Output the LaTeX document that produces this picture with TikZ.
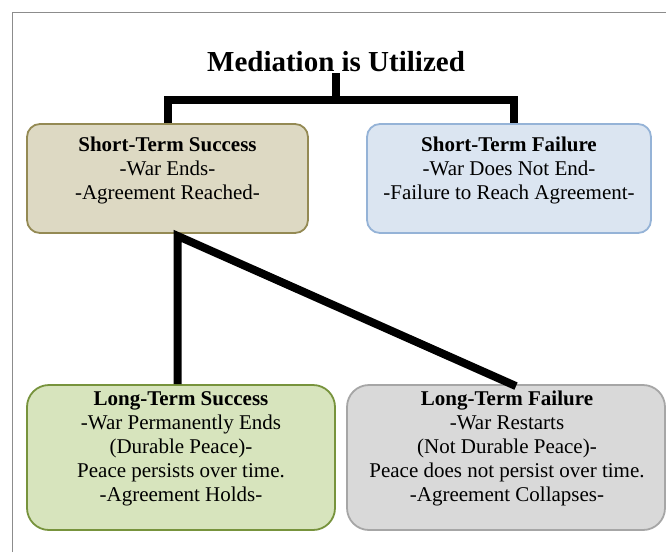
\documentclass[tikz,border=0pt]{standalone}
\usepackage{fontspec}
\setmainfont{Liberation Serif}
\definecolor{sfill}{HTML}{DDD9C3}
\definecolor{sdraw}{HTML}{948A54}
\definecolor{ffill}{HTML}{DBE5F1}
\definecolor{fdraw}{HTML}{95B3D7}
\definecolor{lfill}{HTML}{D7E4BD}
\definecolor{ldraw}{HTML}{77933C}
\definecolor{gfill}{HTML}{D9D9D9}
\definecolor{gdraw}{HTML}{A6A6A6}
\definecolor{framec}{HTML}{8C8C8C}
\tikzset{
  boxbase/.style={draw, line width=1.8pt, inner sep=0pt},
  topbox/.style={boxbase, rounded corners=13pt, minimum width=281pt, minimum height=109pt},
  botbox/.style={boxbase, rounded corners=22pt, minimum width=308pt, minimum height=145pt},
  boxtext/.style={align=center, inner sep=0pt, font=\fontsize{21}{24}\selectfont},
  conn/.style={line width=8pt, line join=miter, line cap=butt},
}
\begin{document}
\begin{tikzpicture}[x=1pt, y=-1pt]
\useasboundingbox (0,0) rectangle (666,552);
\fill[white] (0,0) rectangle (666,552);
\draw[framec, line width=1.5pt] (12.5,552) -- (12.5,12.5) -- (666,12.5);

\node[font=\fontsize{29}{34}\selectfont\bfseries, inner sep=0pt] (title) at (336,62) {Mediation is Utilized};

\node[topbox, fill=sfill, draw=sdraw] (b1) at (167.5,178.5) {};
\node[topbox, fill=ffill, draw=fdraw, minimum width=284pt] (b2) at (509,178.5) {};
\node[botbox, fill=lfill, draw=ldraw] (b3) at (181,457.5) {};
\node[botbox, fill=gfill, draw=gdraw, minimum width=318pt] (b4) at (506,457.5) {};

\node[boxtext] (t1) at (167.5,170) {\textbf{Short-Term Success}\\-War Ends-\\-Agreement Reached-};
\node[boxtext] (t2) at (509,170) {\textbf{Short-Term Failure}\\-War Does Not End-\\-Failure to Reach Agreement-};
\node[boxtext] (t3) at (181,448.5) {\textbf{Long-Term Success}\\-War Permanently Ends\\(Durable Peace)-\\Peace persists over time.\\-Agreement Holds-};
\node[boxtext] (t4) at (507,448.5) {\textbf{Long-Term Failure}\\-War Restarts\\(Not Durable Peace)-\\Peace does not persist over time.\\-Agreement Collapses-};

\coordinate (fork) at (336,100);
\draw[conn] (b1.north) |- (fork) -| ([xshift=5pt]b2.north);
\draw[conn] (fork) -- ([yshift=-1pt]title.base);

\coordinate (split) at ([xshift=10pt, yshift=-2pt]b1.south);
\draw[conn] (split |- b3.north) -- (split) -- ([xshift=10pt, yshift=-2pt]b4.north);
\end{tikzpicture}
\end{document}
